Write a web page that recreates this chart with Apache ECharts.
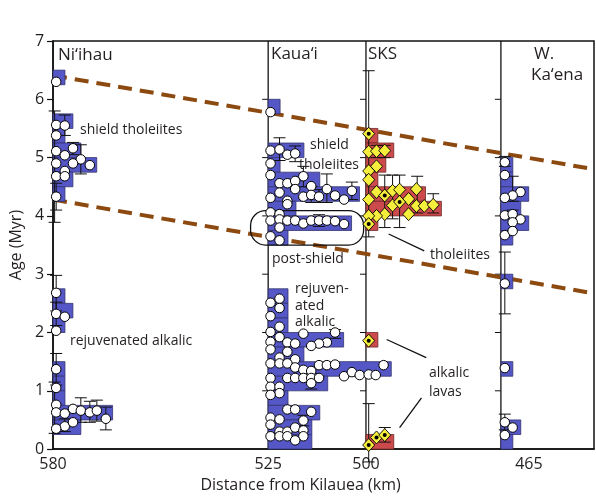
<!DOCTYPE html>
<html><head><meta charset="utf-8">
<script src="https://cdn.jsdelivr.net/npm/echarts@6/dist/echarts.min.js"></script>
<style>html,body{margin:0;padding:0;background:#fff}#c{width:596px;height:498px}</style>
</head><body><div id="c"></div><script>
// ---------- data ----------
const xTickLabels = [580, 525, 500, 465];
const yTickValues = [0, 1, 2, 3, 4, 5, 6, 7];
const baselinesKm = [525, 500, 465.5];          // Kaua'i, SKS, W. Ka'ena reference lines
const baselineTickAges = [1, 2, 3, 4, 5, 6];
const niihauBase = 580, kauaiBase = 525, sksBase = 500, kaenaBase = 465.5;
// histogram bins: [bin start age (Myr), count]
const niihauBins = [[6.25,1],[5.5,2],[5.25,1],[5.0,3],[4.75,5],[4.5,2],[4.25,1],[2.5,1],[2.25,2],[2.0,1],[1.25,1],[1.0,1],[0.75,1],[0.5,7],[0.25,3]];
const kauaiBins = [[5.75,1],[5.0,4],[4.75,1],[4.5,6],[4.25,11],[4.0,3],[3.75,10],[3.5,2],[2.5,2],[2.25,2],[2.0,2],[1.75,9],[1.5,4],[1.25,15],[1.0,7],[0.75,2],[0.5,6],[0.25,5],[0.0,5]];
const sksBins = [[5.25,1],[5.0,3],[4.75,2],[4.5,1],[4.25,7],[4.0,9],[3.75,1],[1.75,1],[0.0,3]];
const kaenaBins = [[4.75,1],[4.5,1],[4.25,3],[4.0,2],[3.75,3],[3.5,1],[2.75,1],[1.25,1],[0.25,2],[0.0,1]];
// dated samples: [distance km, age Myr]
const niihauPts = [[579.2,6.30],[579.2,5.56],[577.0,5.55],[579.2,5.38],[574.9,5.16],[579.2,5.11],[577.0,5.04],[572.9,4.97],[579.2,4.90],[574.9,4.90],[570.6,4.87],[577.0,4.77],[579.2,4.68],[577.0,4.68],[579.2,4.33],
 [579.2,2.68],[579.2,2.32],[577.0,2.27],[579.2,2.03],[579.2,1.37],[579.2,1.05],[579.2,0.76],[579.2,0.63],[577.0,0.61],[574.9,0.69],[572.9,0.66],[570.6,0.63],[568.8,0.66],[566.5,0.52],[577.0,0.39],[574.9,0.46],[579.2,0.35]];
const kauaiPts = [[524.4,5.78],
 [524.4,5.12],[522.1,5.14],[520.1,5.05],[518.1,5.07],[524.4,4.90],
 [524.4,4.70],[516.0,4.68],[522.1,4.56],[520.1,4.56],[518.1,4.60],[514.0,4.51],
 [524.4,4.31],[522.1,4.40],[520.1,4.26],[518.1,4.46],[516.0,4.33],[514.0,4.36],[512.0,4.33],[510.0,4.46],[507.9,4.35],[505.6,4.28],[503.6,4.43],
 [524.4,4.06],[522.1,4.03],[520.1,4.20],
 [524.4,3.92],[522.1,3.94],[520.1,3.92],[518.1,3.92],[516.0,3.87],[514.0,3.92],[512.0,3.92],[510.0,3.92],[507.9,3.91],[505.6,3.86],[522.1,3.80],
 [524.4,3.65],[522.1,3.58],
 [522.1,2.58],[524.4,2.51],[522.1,2.42],[524.4,2.28],[522.1,2.10],[524.4,2.01],
 [516.0,1.98],[507.9,2.00],[522.1,1.92],[524.4,1.84],[520.1,1.83],[518.1,1.81],[510.0,1.83],[512.0,1.81],[514.0,1.77],
 [524.4,1.71],[520.1,1.67],[522.1,1.57],[518.1,1.54],
 [524.4,1.47],[522.1,1.47],[520.1,1.47],[518.1,1.40],[516.0,1.36],[514.0,1.34],[512.0,1.44],[510.0,1.44],[507.9,1.45],[505.6,1.25],[503.6,1.32],[501.6,1.27],[499.3,1.28],[497.5,1.27],[495.5,1.44],
 [524.4,1.22],[520.1,1.22],[518.1,1.22],[516.0,1.22],[514.0,1.22],[512.0,1.22],[514.0,1.13],[524.4,1.07],[522.1,1.07],
 [522.1,0.96],[524.4,0.93],
 [520.1,0.68],[518.1,0.68],[524.4,0.54],[522.1,0.51],[516.0,0.49],[514.0,0.64],
 [524.4,0.42],[522.1,0.30],[520.1,0.30],[518.1,0.37],[516.0,0.32],
 [524.4,0.22],[522.1,0.22],[520.1,0.22],[516.0,0.22],[518.1,0.15]];
const sksPts = [[499.3,5.41],[499.3,5.10],[497.3,5.11],[495.2,5.12],[497.3,4.85],[499.3,4.77],[499.3,4.62],
 [497.3,4.41],[495.2,4.35],[493.2,4.43],[491.4,4.45],[487.1,4.46],[499.3,4.28],[489.1,4.29],
 [493.2,4.18],[487.1,4.17],[485.1,4.17],[482.8,4.19],[489.1,4.03],[495.2,4.03],[497.3,4.00],[499.3,4.00],[491.4,4.24],
 [499.3,3.86],[499.3,1.86],[499.3,0.07],[497.3,0.20],[495.2,0.24]];
const sksDotted = [[499.3,5.41],[495.2,4.35],[491.4,4.24],[499.3,3.86],[499.3,1.86],[499.3,0.07],[497.3,0.20],[495.2,0.24]];
const kaenaPts = [[464.5,4.92],[464.5,4.70],[460.5,4.41],[462.5,4.35],[464.5,4.31],[464.5,4.01],[462.5,4.03],[460.5,3.94],[462.5,3.89],[464.5,3.67],[462.5,3.74],[464.5,2.84],[464.5,1.39],[464.5,0.46],[462.5,0.37],[464.5,0.24]];
// age uncertainty bars: [km, low age, high age]
const niihauErr = [[579.6,3.89,5.80],[577.0,5.38,5.73],[574.9,5.05,5.26],[572.9,4.72,5.22],[579.2,4.10,4.56],[579.2,2.37,2.98],[579.2,2.12,2.52],[579.2,1.10,1.64],[579.6,0.27,1.15],[572.9,0.46,0.88],[570.6,0.46,0.82],[568.8,0.48,0.84],[566.5,0.33,0.72],[577.0,0.30,0.52]];
const kauaiErr = [[522.1,4.95,5.34],[518.1,4.93,5.20],[516.0,4.50,4.85],[514.0,4.23,4.50],[512.0,4.23,4.45],[510.0,4.23,4.72],[503.6,4.28,4.58],[512.0,3.82,4.02],[514.0,1.03,1.30],[507.9,1.90,2.05],[516.0,0.40,0.58]];
const sksErr = [[499.3,3.64,6.49],[495.2,3.80,4.70],[493.2,3.95,4.70],[491.4,3.80,4.70],[486.9,4.05,4.68],[482.8,4.05,4.38],[497.3,5.00,5.21],[495.2,5.00,5.21],[499.3,-0.22,0.78],[495.2,0.12,0.37]];
const kaenaErr = [[464.5,4.85,5.02],[462.5,4.25,4.68],[464.5,2.32,3.38],[464.5,0.33,0.60],[462.5,3.95,4.10]];
// age-progression trend lines (dashed)
const upperTrend = [[580,6.41],[441.7,4.80]];
const lowerTrend = [[580,4.28],[441.7,2.67]];
// annotation geometry in data coords
const postShieldBox = [[529.5,4.09,500.6,3.50]];
const leaderLines = [[494.2,3.69,485.1,3.40],[494.7,1.88,484.6,1.57],[485.8,0.88,491.4,0.37]];

// ---------- rendering ----------
const BIN = 0.25, UNIT = 2.03, X_MIN = 441.7, X_MAX = 580;
const FONT = '"Open Sans", "Noto Sans", sans-serif';
const TXT = '#231f20';
const BLUE = '#5557c6', BLUE_E = '#34346e', RED = '#cc4a4c', RED_E = '#6e2a2a';

function histSeries(base, bins, fill, stroke) {
  return {
    type: 'custom', z: 3, clip: false,
    data: bins.map(b => [base, b[0], b[1]]),
    renderItem(p, api) {
      const b = api.value(0), a0 = api.value(1), n = api.value(2);
      const p0 = api.coord([b, a0 + BIN]);
      const p1 = api.coord([b - (n + 0.5) * UNIT, a0]);
      return { type: 'rect', shape: { x: p0[0], y: p0[1], width: p1[0] - p0[0], height: p1[1] - p0[1] },
        style: { fill: fill, stroke: stroke, lineWidth: 0.8 } };
    }
  };
}
function errSeries(data) {
  return {
    type: 'custom', z: 4, clip: false, data: data,
    renderItem(p, api) {
      const lo = api.coord([api.value(0), api.value(1)]);
      const hi = api.coord([api.value(0), api.value(2)]);
      const st = { stroke: '#111', lineWidth: 1 };
      return { type: 'group', children: [
        { type: 'line', shape: { x1: lo[0], y1: lo[1], x2: hi[0], y2: hi[1] }, style: st },
        { type: 'line', shape: { x1: lo[0] - 6, y1: lo[1], x2: lo[0] + 6, y2: lo[1] }, style: st },
        { type: 'line', shape: { x1: hi[0] - 6, y1: hi[1], x2: hi[0] + 6, y2: hi[1] }, style: st }
      ] };
    }
  };
}
function circleSeries(data) {
  return { type: 'scatter', z: 6, data: data, symbol: 'circle', symbolSize: 9.5,
    itemStyle: { color: '#fff', borderColor: '#000', borderWidth: 1, opacity: 1 }, silent: true };
}
const texts = [
  ['Ni‘ihau', 58, 55, 17], ['Kaua‘i', 271, 54, 17], ['SKS', 368, 54, 17], ['W.', 534, 54, 17], ['Ka‘ena', 531, 75, 17],
  ['shield tholeiites', 80, 130, 14], ['rejuvenated alkalic', 70, 341, 14],
  ['shield', 310, 145, 14], ['tholeiites', 299, 165, 14], ['post-shield', 272, 259, 14],
  ['rejuven-', 295, 289, 14], ['ated', 295, 306, 14], ['alkalic', 295, 322, 14],
  ['tholeiites', 430, 255, 14], ['alkalic', 429, 373, 14], ['lavas', 429, 392, 14]
];

const chart = echarts.init(document.getElementById('c'), null, { renderer: 'canvas' });
chart.setOption({
  animation: false,
  backgroundColor: '#fff',
  grid: { left: 49, right: 2, top: 41, bottom: 43, show: true, borderColor: '#111', borderWidth: 1.5, backgroundColor: 'transparent' },
  xAxis: {
    type: 'value', min: X_MIN, max: X_MAX, inverse: true,
    name: 'Distance from Kilauea (km)', nameLocation: 'middle', nameGap: 26,
    nameTextStyle: { fontFamily: FONT, fontSize: 16, color: TXT, padding: [0, 46, 0, 0] },
    axisLine: { show: true, lineStyle: { color: '#111', width: 1.5 } },
    axisTick: { show: false }, splitLine: { show: false },
    axisLabel: { customValues: xTickLabels, margin: 7, fontFamily: FONT, fontSize: 16, color: TXT,
      formatter: v => v === 465 ? '{s|465}' : String(v),
      rich: { s: { fontFamily: FONT, fontSize: 16, color: TXT, padding: [0, 0, 0, 52] } } }
  },
  yAxis: {
    type: 'value', min: 0, max: 7, interval: 1,
    name: 'Age (Myr)', nameLocation: 'middle', nameGap: 27,
    nameTextStyle: { fontFamily: FONT, fontSize: 16, color: TXT },
    axisLine: { show: true, lineStyle: { color: '#111', width: 1.5 } },
    axisTick: { show: true, length: 6, lineStyle: { color: '#111', width: 1.2 } },
    splitLine: { show: false },
    axisLabel: { margin: 9, fontFamily: FONT, fontSize: 16, color: TXT,
      customValues: yTickValues }
  },
  series: [
    { type: 'custom', z: 1, clip: false, data: baselinesKm.map(k => [k]),
      renderItem(p, api) {
        const k = api.value(0);
        const top = api.coord([k, 7]), bot = api.coord([k, 0]);
        const st = { stroke: '#111', lineWidth: 1.3 };
        const ch = [{ type: 'line', shape: { x1: top[0], y1: top[1], x2: bot[0], y2: bot[1] }, style: st }];
        baselineTickAges.forEach(a => { const q = api.coord([k, a]);
          ch.push({ type: 'line', shape: { x1: q[0] - 6, y1: q[1], x2: q[0], y2: q[1] }, style: { stroke: '#111', lineWidth: 1 } }); });
        return { type: 'group', children: ch };
      } },
    { type: 'line', z: 2, data: upperTrend, showSymbol: false, silent: true,
      lineStyle: { color: '#8c4a10', width: 4, type: [14, 8] } },
    { type: 'line', z: 2, data: lowerTrend, showSymbol: false, silent: true,
      lineStyle: { color: '#8c4a10', width: 4, type: [14, 8] } },
    histSeries(niihauBase, niihauBins, BLUE, BLUE_E),
    histSeries(kauaiBase, kauaiBins, BLUE, BLUE_E),
    histSeries(sksBase, sksBins, RED, RED_E),
    histSeries(kaenaBase, kaenaBins, BLUE, BLUE_E),
    errSeries(niihauErr), errSeries(kauaiErr), errSeries(sksErr), errSeries(kaenaErr),
    { type: 'custom', z: 5, clip: false, data: postShieldBox,
      renderItem(p, api) {
        const a = api.coord([api.value(0), api.value(1)]), b = api.coord([api.value(2), api.value(3)]);
        return { type: 'rect', shape: { x: a[0], y: a[1], width: b[0] - a[0], height: b[1] - a[1], r: 15 },
          style: { fill: 'none', stroke: '#111', lineWidth: 1.3 } };
      } },
    { type: 'custom', z: 5, clip: false, data: leaderLines,
      renderItem(p, api) {
        const a = api.coord([api.value(0), api.value(1)]), b = api.coord([api.value(2), api.value(3)]);
        return { type: 'line', shape: { x1: a[0], y1: a[1], x2: b[0], y2: b[1] }, style: { stroke: '#111', lineWidth: 1.3 } };
      } },
    circleSeries(niihauPts), circleSeries(kauaiPts), circleSeries(kaenaPts),
    { type: 'scatter', z: 6, data: sksPts, symbol: 'diamond', symbolSize: [12, 13], silent: true,
      itemStyle: { color: '#f6ee3c', borderColor: '#000', borderWidth: 0.9, opacity: 1 } },
    { type: 'scatter', z: 7, data: sksDotted, symbol: 'circle', symbolSize: 4, silent: true,
      itemStyle: { color: '#000', opacity: 1 } }
  ],
  graphic: texts.map(t => ({ type: 'text', z: 100, silent: true,
    style: { text: t[0], x: t[1], y: t[2], fill: TXT, font: t[3] + 'px ' + FONT, textVerticalAlign: 'middle', textAlign: 'left' } }))
});
</script></body></html>
